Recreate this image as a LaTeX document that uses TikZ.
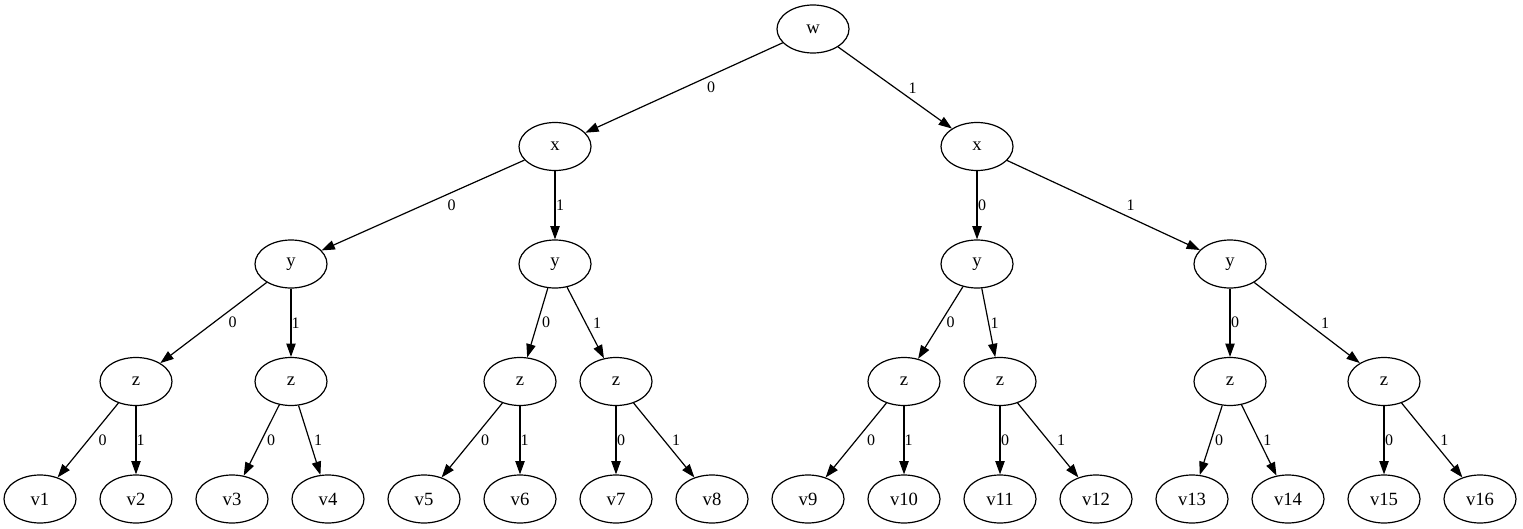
\documentclass[tikz,border=0pt]{standalone}
\usepackage{fontspec}
\setmainfont{Liberation Serif}
\usetikzlibrary{arrows.meta,shapes.geometric}

\begin{document}
\begin{tikzpicture}[x=0.75pt,y=-0.75pt,
  vtx/.style={draw,ellipse,minimum width=54pt,minimum height=36pt,inner sep=0pt,
    line width=0.9pt,font=\fontsize{14}{16}\selectfont},
  edge/.style={-{Triangle[length=10pt,width=7pt]},line width=0.9pt},
  elab/.style={font=\fontsize{12}{14}\selectfont,inner sep=0pt,xshift=#1*0.75pt}]
  \path[use as bounding box] (0,0) rectangle (1523,528);
  % nodes
  \node[vtx] (w)  at ( 813, 29.0) {w};
  \node[vtx] (x0) at ( 555,146.5) {x};
  \node[vtx] (x1) at ( 977,146.5) {x};
  \node[vtx] (y0) at ( 291,264.0) {y};
  \node[vtx] (y1) at ( 555,264.0) {y};
  \node[vtx] (y2) at ( 977,264.0) {y};
  \node[vtx] (y3) at (1230,264.0) {y};
  \node[vtx] (z0) at ( 136,381.5) {z};
  \node[vtx] (z1) at ( 291,381.5) {z};
  \node[vtx] (z2) at ( 520,381.5) {z};
  \node[vtx] (z3) at ( 616,381.5) {z};
  \node[vtx] (z4) at ( 904,381.5) {z};
  \node[vtx] (z5) at (1000,381.5) {z};
  \node[vtx] (z6) at (1230,381.5) {z};
  \node[vtx] (z7) at (1384,381.5) {z};
  \foreach \i in {1,...,16}
    \node[vtx] (v\i) at ({40+96*(\i-1)},499) {v\i};
  % edges
  \draw[edge] (w)  -- node[elab=27.0]{0} (x0);
  \draw[edge] (w)  -- node[elab=17.7]{1} (x1);
  \draw[edge] (x0) -- node[elab=28.7]{0} (y0);
  \draw[edge] (x0) -- node[elab=5.0]{1} (y1);
  \draw[edge] (x1) -- node[elab=5.0]{0} (y2);
  \draw[edge] (x1) -- node[elab=27.2]{1} (y3);
  \draw[edge] (y0) -- node[elab=19.0]{0} (z0);
  \draw[edge] (y0) -- node[elab=4.5]{1} (z1);
  \draw[edge] (y1) -- node[elab=8.5]{0} (z2);
  \draw[edge] (y1) -- node[elab=11.5]{1} (z3);
  \draw[edge] (y2) -- node[elab=10.0]{0} (z4);
  \draw[edge] (y2) -- node[elab=6.0]{1} (z5);
  \draw[edge] (y3) -- node[elab=5.0]{0} (z6);
  \draw[edge] (y3) -- node[elab=18.0]{1} (z7);
  \draw[edge] (z0) -- node[elab=14.7]{0} (v1);
  \draw[edge] (z0) -- node[elab=4.5]{1} (v2);
  \draw[edge] (z1) -- node[elab=9.7]{0} (v3);
  \draw[edge] (z1) -- node[elab=8.5]{1} (v4);
  \draw[edge] (z2) -- node[elab=13.0]{0} (v5);
  \draw[edge] (z2) -- node[elab=4.5]{1} (v6);
  \draw[edge] (z3) -- node[elab=5.0]{0} (v7);
  \draw[edge] (z3) -- node[elab=12.0]{1} (v8);
  \draw[edge] (z4) -- node[elab=15.0]{0} (v9);
  \draw[edge] (z4) -- node[elab=4.5]{1} (v10);
  \draw[edge] (z5) -- node[elab=5.0]{0} (v11);
  \draw[edge] (z5) -- node[elab=13.0]{1} (v12);
  \draw[edge] (z6) -- node[elab=8.0]{0} (v13);
  \draw[edge] (z6) -- node[elab=8.3]{1} (v14);
  \draw[edge] (z7) -- node[elab=5.0]{0} (v15);
  \draw[edge] (z7) -- node[elab=12.3]{1} (v16);
\end{tikzpicture}
\end{document}
